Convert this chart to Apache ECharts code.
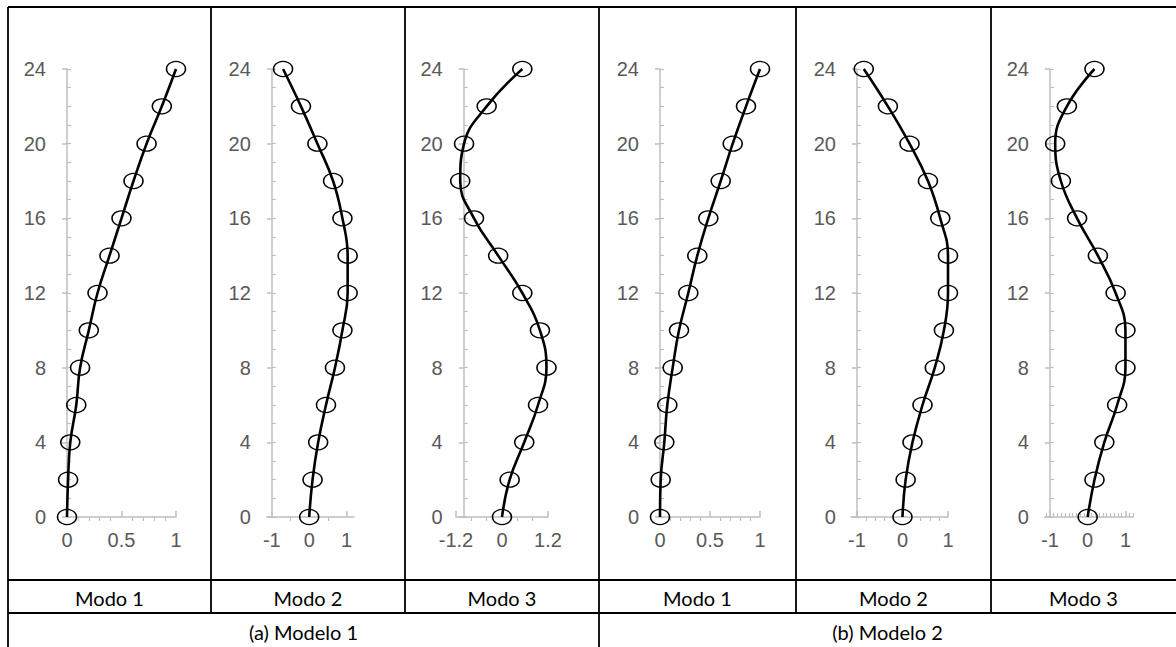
<!DOCTYPE html>
<html>
<head>
<meta charset="utf-8">
<script src="https://cdn.jsdelivr.net/npm/echarts@6/dist/echarts.min.js"></script>
<style>
	html, body { margin: 0; padding: 0; background: #fff; }
	#main { width: 1176px; height: 647px; }
</style>
</head>
<body>
<div id="main"></div>
<script>
// alturas dos pavimentos (eixo vertical)
var alturas = [0, 2, 4, 6, 8, 10, 12, 14, 16, 18, 20, 22, 24];

// formas modais
var m1Modo1 = [0, 0.01, 0.03, 0.085, 0.12, 0.2, 0.28, 0.39, 0.5, 0.61, 0.73, 0.87, 1.0];
var m1Modo2 = [0, 0.09, 0.24, 0.45, 0.69, 0.89, 1.03, 1.03, 0.89, 0.64, 0.22, -0.22, -0.7];
var m1Modo3 = [0, 0.2, 0.58, 0.94, 1.16, 0.99, 0.53, -0.1, -0.73, -1.09, -0.99, -0.4, 0.53];
var m2Modo1 = [0, 0.007, 0.043, 0.073, 0.127, 0.19, 0.283, 0.373, 0.483, 0.607, 0.727, 0.86, 1.0];
var m2Modo2 = [0, 0.07, 0.22, 0.44, 0.71, 0.91, 1.0, 1.0, 0.83, 0.56, 0.155, -0.32, -0.85];
var m2Modo3 = [0, 0.18, 0.44, 0.78, 1.0, 1.0, 0.74, 0.27, -0.28, -0.71, -0.86, -0.55, 0.18];

// rotulos e marcas dos eixos horizontais
var rotA = [0, 0.5, 1];
var menorA = [0.1, 0.2, 0.3, 0.4, 0.6, 0.7, 0.8, 0.9];
var rotB = [-1, 0, 1];
var menorB = [-0.5, 0.5];
var rotC = [-1.2, 0, 1.2];
var menorC = [-0.8, -0.4, 0.4, 0.8];
var menorD = [-0.8, -0.6, -0.4, -0.2, 0.2, 0.4, 0.6, 0.8];
var menorE = [-1.1, -0.9, -0.8, -0.7, -0.6, -0.5, -0.4, -0.3, -0.2, -0.1, 0.1, 0.2, 0.3, 0.4, 0.5, 0.6, 0.7, 0.8, 0.9, 1.1, 1.2];

var modos = ['Modo 1', 'Modo 2', 'Modo 3', 'Modo 1', 'Modo 2', 'Modo 3'];
var modelos = ['(a) Modelo 1', '(b) Modelo 2'];

// cada painel: dados e posicao do grid
var paineis = [
	{ dados: m1Modo1, left: 67, width: 109, min: 0, max: 1, corte: 0, rot: rotA, menor: menorA, dentro: false },
	{ dados: m1Modo2, left: 267, width: 87, min: -1.13, max: 1.2, corte: -1, rot: rotB, menor: menorB, dentro: false },
	{ dados: m1Modo3, left: 456, width: 92, min: -1.2, max: 1.2, corte: -1, rot: rotC, menor: menorC, dentro: false },
	{ dados: m2Modo1, left: 660, width: 100, min: 0, max: 1, corte: 0, rot: rotA, menor: menorA, dentro: false },
	{ dados: m2Modo2, left: 851, width: 97, min: -1.13, max: 1, corte: -1, rot: rotB, menor: menorD, dentro: false },
	{ dados: m2Modo3, left: 1045, width: 88, min: -1.13, max: 1.2, corte: -1, rot: rotB, menor: menorE, dentro: true }
];

var cinza = '#bfbfbf';
var fonteEixo = { color: '#595959', fontSize: 20, fontFamily: 'Liberation Sans' };

var grids = [], xAxes = [], yAxes = [], series = [];

paineis.forEach(function(p, i) {
	var off = -(p.corte - p.min) / (p.max - p.min) * p.width;

	grids.push({ left: p.left, width: p.width, top: 69, height: 448, outerBoundsMode: 'none' });

	// eixo x principal
	xAxes.push({
		gridIndex: i, type: 'value', min: p.min, max: p.max, position: 'bottom',
		axisLine: { show: true, onZero: false, lineStyle: { color: cinza, width: 1.5 } },
		axisTick: { show: true, customValues: p.rot, inside: true, length: 6, lineStyle: { color: cinza, width: 1.5 } },
		axisLabel: Object.assign({ customValues: p.rot, margin: 13 }, fonteEixo),
		splitLine: { show: false }
	});
	// marcas secundarias
	xAxes.push({
		gridIndex: i, type: 'value', min: p.min, max: p.max, position: 'bottom',
		axisLine: { show: false, onZero: false },
		axisTick: { show: true, customValues: p.menor, inside: p.dentro, length: 4, lineStyle: { color: cinza, width: 1.2 } },
		axisLabel: { show: false },
		splitLine: { show: false }
	});

	yAxes.push({
		gridIndex: i, type: 'value', min: 0, max: 24, interval: 4, position: 'left', offset: off,
		axisLine: { show: true, onZero: false, lineStyle: { color: cinza, width: 1.5 } },
		axisTick: { show: true, inside: false, length: 5, lineStyle: { color: cinza, width: 1.5 } },
		axisLabel: Object.assign({ margin: 21 }, fonteEixo),
		splitLine: { show: false }
	});
	yAxes.push({
		gridIndex: i, type: 'value', min: 0, max: 24, interval: 1, position: 'left', offset: off,
		axisLine: { show: false, onZero: false },
		axisTick: { show: true, inside: true, length: 4, lineStyle: { color: cinza, width: 1.2 } },
		axisLabel: { show: false },
		splitLine: { show: false }
	});

	series.push({
		type: 'line',
		xAxisIndex: i * 2,
		yAxisIndex: i * 2,
		data: alturas.map(function(h, k) { return [p.dados[k], h]; }),
		smooth: 0.45,
		clip: false,
		symbol: 'circle',
		symbolSize: [19, 15],
		lineStyle: { color: '#000', width: 2.6 },
		itemStyle: { color: 'rgba(0,0,0,0)', borderColor: '#000', borderWidth: 1.4 }
	});
});

// tabela em volta dos graficos
var colunas = [8, 211, 405, 599, 796, 991, 1176];
var topo = 7, linhaModo = 580, linhaModelo = 613, fim = 647;
var preto = { stroke: '#000', lineWidth: 1.8 };
var graficos = [];

function linha(x1, y1, x2, y2) {
	graficos.push({ type: 'line', silent: true, shape: { x1: x1, y1: y1, x2: x2, y2: y2 }, style: preto });
}

linha(colunas[0], topo, 1176, topo);
linha(colunas[0], linhaModo, 1176, linhaModo);
linha(colunas[0], linhaModelo, 1176, linhaModelo);
[1, 2, 4, 5].forEach(function(c) { linha(colunas[c], topo, colunas[c], linhaModelo); });
linha(colunas[0], topo, colunas[0], fim);
linha(colunas[3], topo, colunas[3], fim);

modos.forEach(function(t, i) {
	graficos.push({
		type: 'text', silent: true,
		style: {
			text: t, x: (colunas[i] + colunas[i + 1]) / 2, y: (linhaModo + linhaModelo) / 2 + 1,
			align: 'center', verticalAlign: 'middle',
			font: '20px Lato', fill: '#000'
		}
	});
});
modelos.forEach(function(t, i) {
	graficos.push({
		type: 'text', silent: true,
		style: {
			text: t, x: (colunas[i * 3] + colunas[i * 3 + 3]) / 2, y: 632,
			align: 'center', verticalAlign: 'middle',
			font: '20px Lato', fill: '#000'
		}
	});
});

var chart = echarts.init(document.getElementById('main'), null, { renderer: 'svg' });
chart.setOption({
	animation: false,
	backgroundColor: '#fff',
	grid: grids,
	xAxis: xAxes,
	yAxis: yAxes,
	series: series,
	graphic: graficos
});
</script>
</body>
</html>
